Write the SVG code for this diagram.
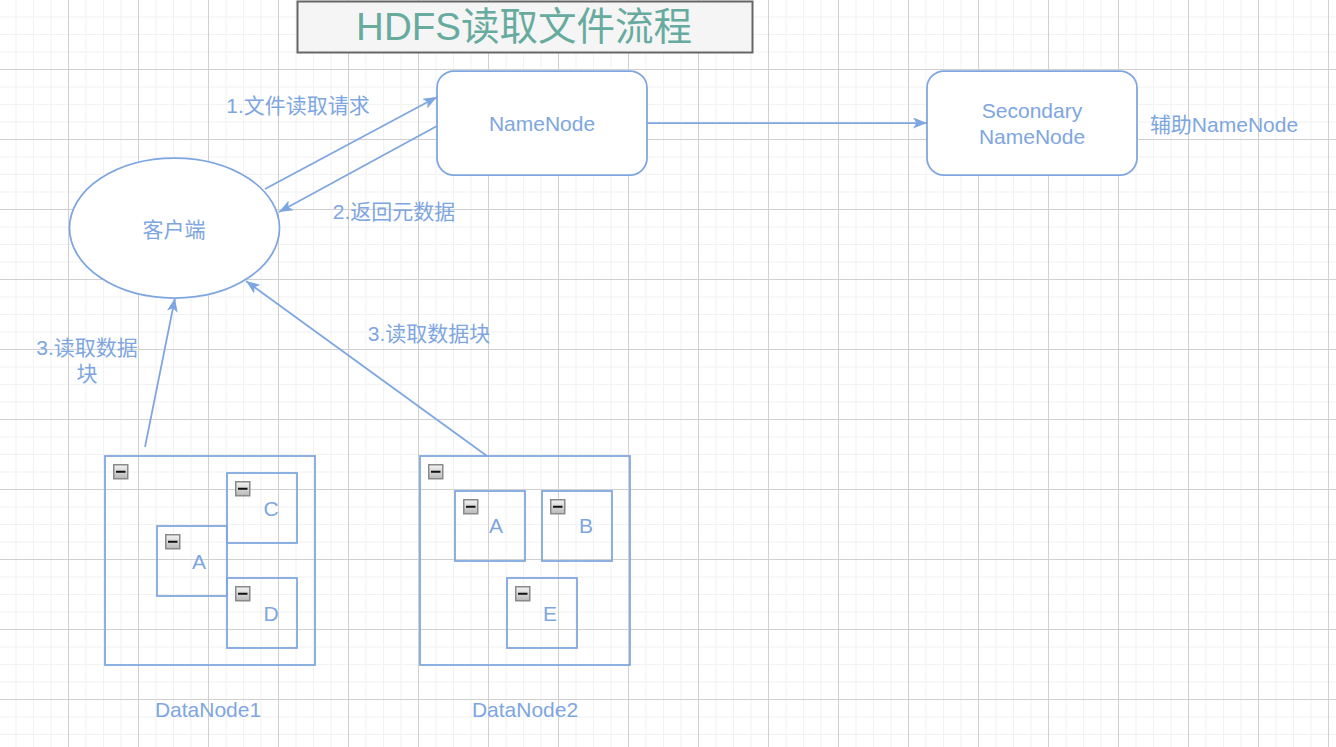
<svg xmlns="http://www.w3.org/2000/svg" width="1336" height="747" viewBox="0 0 1336 747">
<style>
.sh{fill:#ffffff;stroke:#7EA6E0;stroke-width:1.75}
.bx{fill:none;stroke:#7EA6E0;stroke-width:1.75}
.ln{fill:none;stroke:#7EA6E0;stroke-width:1.75;marker-end:url(#arr)}
.t{font-family:"Liberation Sans","Noto Sans CJK SC",sans-serif;font-size:21px;fill:#7EA6E0;text-anchor:middle}
.title{font-family:"Liberation Sans","Noto Sans CJK SC",sans-serif;font-size:38.5px;fill:#67AB9F;text-anchor:middle}
</style>
<defs>
<pattern id="grid" patternUnits="userSpaceOnUse" x="-2" y="-1" width="70" height="70">
<rect x="0" y="0" width="70" height="70" fill="#ffffff"/>
<rect x="17.5" y="0" width="1" height="70" fill="#f2f2f2"/>
<rect x="35" y="0" width="1" height="70" fill="#f2f2f2"/>
<rect x="52.5" y="0" width="1" height="70" fill="#f2f2f2"/>
<rect x="0" y="17.5" width="70" height="1" fill="#f2f2f2"/>
<rect x="0" y="35" width="70" height="1" fill="#f2f2f2"/>
<rect x="0" y="52.5" width="70" height="1" fill="#f2f2f2"/>
<rect x="0" y="0" width="1" height="70" fill="#d0d0d0"/>
<rect x="0" y="0" width="70" height="1" fill="#d0d0d0"/>
</pattern>
<linearGradient id="ig" x1="0" y1="0" x2="0" y2="1">
<stop offset="0" stop-color="#f4f4f4"/>
<stop offset="1" stop-color="#b8b8b8"/>
</linearGradient>
<g id="icon">
<rect x="0.75" y="0.75" width="14" height="14" fill="url(#ig)" stroke="#8a8a8a" stroke-width="1.5"/>
<rect x="3" y="6.75" width="9.5" height="2" fill="#111111"/>
</g>
<marker id="arr" markerUnits="userSpaceOnUse" viewBox="0 0 14 11" refX="14" refY="5.5" markerWidth="14" markerHeight="11" orient="auto">
<path d="M0,0 L14,5.5 L0,11 L3.5,5.5 z" fill="#7EA6E0"/>
</marker>
</defs>
<rect x="0" y="0" width="1336" height="747" fill="url(#grid)"/>

<g id="title">
<rect x="297.5" y="1.5" width="455" height="51" fill="#f5f5f5" stroke="#666666" stroke-width="2"/>
<text class="title" x="524" y="40">HDFS读取文件流程</text>
</g>

<g id="connectors">
<line class="ln" x1="265" y1="189" x2="437" y2="97"/>
<line class="ln" x1="437" y1="126" x2="279" y2="212"/>
<line class="ln" x1="647" y1="123" x2="927" y2="123"/>
<line class="ln" x1="145" y1="447" x2="175" y2="298"/>
<line class="ln" x1="487" y1="456" x2="246" y2="281"/>
</g>

<g id="edge-labels">
<text class="t" x="298" y="113">1.文件读取请求</text>
<text class="t" x="394" y="219">2.返回元数据</text>
<text class="t" x="429" y="341">3.读取数据块</text>
<text class="t" x="87" y="355">3.读取数据</text>
<text class="t" x="87" y="381">块</text>
</g>

<g id="namenode">
<rect class="sh" x="437" y="71" width="210" height="104" rx="17" ry="17"/>
<text class="t" x="542" y="131">NameNode</text>
</g>

<g id="secondary-namenode">
<rect class="sh" x="927" y="71" width="210" height="104" rx="17" ry="17"/>
<text class="t" x="1032" y="118">Secondary</text>
<text class="t" x="1032" y="143.5">NameNode</text>
</g>

<g id="secondary-note">
<text class="t" x="1224" y="131.5">辅助NameNode</text>
</g>

<g id="client">
<ellipse class="sh" cx="174.5" cy="228" rx="105" ry="70"/>
<text class="t" x="174" y="237">客户端</text>
</g>

<g id="datanode1">
<rect class="bx" x="105" y="456" width="210" height="209"/>
<use href="#icon" x="113" y="464"/>
<rect class="bx" x="227" y="473" width="70" height="70"/>
<use href="#icon" x="235" y="481"/>
<text class="t" x="271" y="515.5">C</text>
<rect class="bx" x="157" y="526" width="70" height="70"/>
<use href="#icon" x="165" y="534"/>
<text class="t" x="199" y="568.5">A</text>
<rect class="bx" x="227" y="578" width="70" height="70"/>
<use href="#icon" x="235" y="586"/>
<text class="t" x="271" y="621">D</text>
<text class="t" x="208" y="716.5">DataNode1</text>
</g>

<g id="datanode2">
<rect class="bx" x="420" y="456" width="210" height="209"/>
<use href="#icon" x="428" y="464"/>
<rect class="bx" x="455" y="491" width="70" height="70"/>
<use href="#icon" x="463" y="499"/>
<text class="t" x="496" y="533">A</text>
<rect class="bx" x="542" y="491" width="70" height="70"/>
<use href="#icon" x="550" y="499"/>
<text class="t" x="586" y="533">B</text>
<rect class="bx" x="507" y="578" width="70" height="70"/>
<use href="#icon" x="515" y="586"/>
<text class="t" x="550" y="621">E</text>
<text class="t" x="525" y="716.5">DataNode2</text>
</g>
</svg>
